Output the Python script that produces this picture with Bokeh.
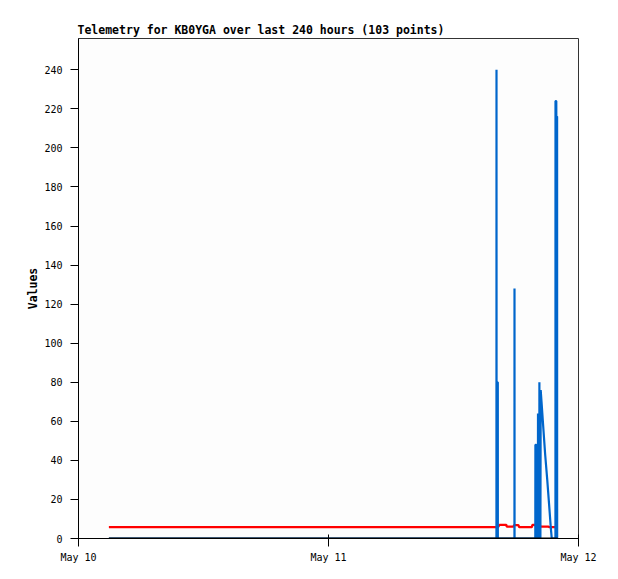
import pandas as pd
from bokeh.plotting import figure
from bokeh.models import Range1d, FixedTicker, DatetimeTickFormatter
from bokeh.embed import file_html
from bokeh.resources import INLINE

# ---- data ----
blue_times = [
    "2024-05-10 02:55:00",
    "2024-05-11 16:07:23", "2024-05-11 16:07:41", "2024-05-11 16:07:58",
    "2024-05-11 16:15:10", "2024-05-11 16:15:28",
    "2024-05-11 17:51:05", "2024-05-11 17:51:22", "2024-05-11 17:51:40",
    "2024-05-11 19:51:10", "2024-05-11 19:51:44", "2024-05-11 19:56:56", "2024-05-11 19:57:30",
    "2024-05-11 20:06:08", "2024-05-11 20:06:43", "2024-05-11 20:07:18",
    "2024-05-11 20:14:12", "2024-05-11 20:14:47", "2024-05-11 20:15:22",
    "2024-05-11 20:20:32", "2024-05-11 20:22:16",
    "2024-05-11 20:27:00", "2024-05-11 20:37:00", "2024-05-11 20:48:00",
    "2024-05-11 21:00:00", "2024-05-11 21:11:00", "2024-05-11 21:20:00",
    "2024-05-11 21:26:00",
    "2024-05-11 21:47:14", "2024-05-11 21:47:31", "2024-05-11 21:52:04",
    "2024-05-11 21:52:20", "2024-05-11 21:56:44", "2024-05-11 21:57:01",
]
blue_values = [
    0,
    0, 240, 80,
    80, 0,
    0, 128, 0,
    0, 48, 48, 0,
    0, 64, 0,
    0, 80, 0,
    0, 76,
    70, 57, 43,
    30, 17, 6,
    0,
    0, 224, 224,
    216, 216, 0,
]

red_times = [
    "2024-05-10 02:55", "2024-05-11 16:16", "2024-05-11 16:25", "2024-05-11 17:04",
    "2024-05-11 17:07", "2024-05-11 17:46", "2024-05-11 17:49", "2024-05-11 18:14",
    "2024-05-11 18:18", "2024-05-11 19:31", "2024-05-11 19:35", "2024-05-11 19:51",
    "2024-05-11 19:54", "2024-05-11 20:19", "2024-05-11 20:23", "2024-05-11 21:07",
    "2024-05-11 21:11", "2024-05-11 22:00",
]
red_values = [5.8, 5.8, 7.0, 7.0, 6.1, 6.1, 6.8, 6.8, 5.8, 5.8, 7.0, 7.0, 6.4, 6.4, 6.1, 6.1, 5.8, 5.8]

black_times = ["2024-05-10 02:55", "2024-05-11 22:00"]
black_values = [0, 0]

x_ticks = ["2024-05-10", "2024-05-11", "2024-05-12"]
y_ticks = list(range(0, 241, 20))

title_text = "Telemetry for KB0YGA over last 240 hours (103 points)"
y_label = "Values"

# ---- build ----
bt = pd.to_datetime(blue_times)
rt = pd.to_datetime(red_times)
kt = pd.to_datetime(black_times)
xt = pd.to_datetime(x_ticks)
ms = [t.value / 1e6 for t in xt]

MONO = "DejaVu Sans Mono"

p = figure(width=610, height=571, x_axis_type="datetime",
           output_backend="svg", toolbar_location=None,
           min_border_left=78, min_border_right=32,
           min_border_top=38, min_border_bottom=33,
           title=title_text)
p.x_range = Range1d(ms[0], ms[-1])
p.y_range = Range1d(0, 256)

p.title.text_font = MONO
p.title.text_font_size = "11.5px"
p.title.text_font_style = "bold"
p.title.text_color = "black"
p.title.align = "left"
p.title.offset = -1
p.title.standoff = 4

p.background_fill_color = "#fdfdfd"
p.border_fill_color = "white"
p.outline_line_color = "#333333"
p.outline_line_width = 1
p.grid.visible = False

p.xaxis.ticker = FixedTicker(ticks=ms)
p.xaxis.formatter = DatetimeTickFormatter(days="%b %d", months="%b %d", hours="%b %d")
p.xaxis.minor_tick_line_color = None
p.xaxis.major_tick_in = 4
p.xaxis.major_tick_out = 8
p.xaxis.major_label_standoff = 5

p.yaxis.ticker = FixedTicker(ticks=y_ticks)
p.yaxis.minor_tick_line_color = None
p.yaxis.major_tick_in = 0
p.yaxis.major_tick_out = 8
p.yaxis.major_label_standoff = 8
p.yaxis.axis_label = y_label
p.yaxis.axis_label_text_font = MONO
p.yaxis.axis_label_text_font_size = "11.5px"
p.yaxis.axis_label_text_font_style = "bold"
p.yaxis.axis_label_text_color = "black"
p.yaxis.axis_label_standoff = 1

for ax in (p.xaxis, p.yaxis):
    ax.major_label_text_font = MONO
    ax.major_label_text_font_size = "10px"
    ax.major_label_text_color = "black"
    ax.axis_line_color = "black"
    ax.major_tick_line_color = "black"

p.line(rt, red_values, line_color="#ff0000", line_width=2.3)
p.line(bt, blue_values, line_color="#0066cc", line_width=2.2)
p.line(kt, black_values, line_color="black", line_width=2.2)

open("out.html", "w").write(file_html(p, INLINE))
